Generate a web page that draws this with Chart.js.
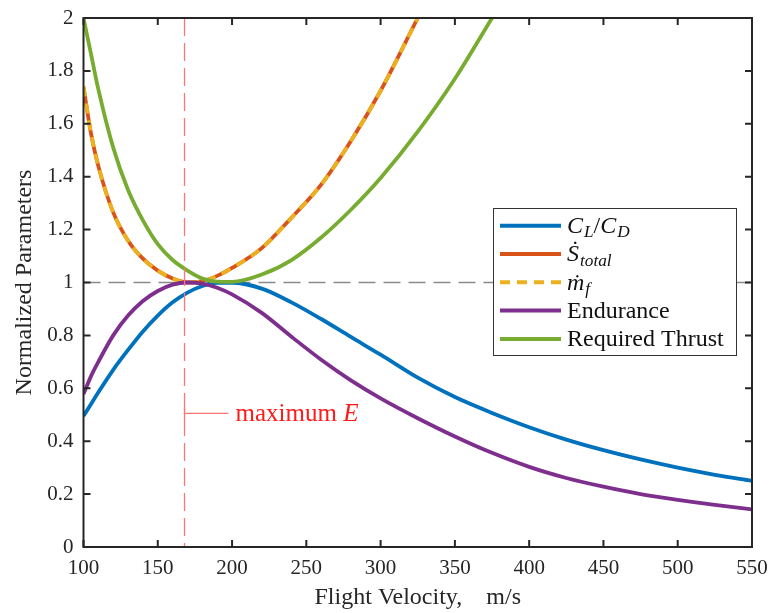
<!DOCTYPE html>
<html>
<head>
<meta charset="utf-8">
<script src="https://cdn.jsdelivr.net/npm/chart.js@4.4.1/dist/chart.umd.min.js"></script>
<style>
  html, body { margin: 0; padding: 0; background: #fff; }
  #wrap { position: relative; width: 771px; height: 613px; }
</style>
</head>
<body>
<div id="wrap"><canvas id="chart" width="771" height="613"></canvas></div>
<script>
// ─── Data ────────────────────────────────────────────────────────────────────
const velocity = [100, 105, 110, 120, 130, 140, 150, 160, 170, 180, 190, 200, 220, 240, 260, 280, 300, 325, 350, 375, 400, 425, 450, 475, 500, 525, 550];

const liftToDrag = [0.495, 0.54, 0.585, 0.67, 0.745, 0.815, 0.875, 0.925, 0.962, 0.987, 0.999, 0.999, 0.977, 0.925, 0.862, 0.794, 0.727, 0.64, 0.567, 0.507, 0.453, 0.406, 0.366, 0.331, 0.3, 0.273, 0.25];
const entropyRate = [1.74, 1.565, 1.44, 1.265, 1.158, 1.09, 1.045, 1.015, 1.0, 1.005, 1.025, 1.055, 1.13, 1.245, 1.37, 1.535, 1.725, 2.0, null, null, null, null, null, null, null, null, null];
const fuelFlow = [1.74, 1.565, 1.44, 1.265, 1.158, 1.09, 1.045, 1.015, 1.0, 1.005, 1.025, 1.055, 1.13, 1.245, 1.37, 1.535, 1.725, 2.0, null, null, null, null, null, null, null, null, null];
const endurance = [0.578, 0.645, 0.70, 0.80, 0.875, 0.93, 0.968, 0.992, 1.0, 0.996, 0.98, 0.955, 0.885, 0.795, 0.708, 0.63, 0.562, 0.487, 0.418, 0.356, 0.303, 0.261, 0.228, 0.2, 0.178, 0.159, 0.1425];
const requiredThrust = [2.0, 1.865, 1.73, 1.51, 1.35, 1.235, 1.145, 1.085, 1.045, 1.015, 1.003, 1.002, 1.03, 1.085, 1.17, 1.275, 1.395, 1.57, 1.77, 2.0, null, null, null, null, null, null, null];

const seriesNames = ['CL/CD', 'S_total', 'm_f', 'Endurance', 'Required Thrust'];
// legend text as rich pieces: [text, style]  ('' upright, 'i' italic, 'sub' italic subscript)
const legendLabels = [
  [['C', 'i'], ['L', 'sub'], ['/', ''], ['C', 'i'], ['D', 'sub']],
  [['Ṡ', 'i'], ['total', 'sub']],
  [['ṁ', 'i'], ['f', 'sub']],
  [['Endurance', '']],
  [['Required Thrust', '']],
];

const unityLevel = 1;        // grey dashed reference
const maxEVelocity = 168;    // red dashed line, maximum endurance
const annotationLevel = 0.505;
const annotationText = [['maximum ', ''], ['E', 'i']];

const xTicks = { min: 100, max: 550, step: 50 };
const yTicks = { min: 0, max: 2, step: 0.2 };

// ─── Styling ─────────────────────────────────────────────────────────────────
const SERIF = '"Liberation Serif", "Times New Roman", "DejaVu Serif", serif';
const AXIS = '#262626';
const COLORS = ['#0072BD', '#D95319', '#EDB120', '#7E2F8E', '#77AC30'];

const valuesBySeries = [liftToDrag, entropyRate, fuelFlow, endurance, requiredThrust];

function drawRich(ctx, pieces, x, y, size) {
  let cx = x;
  pieces.forEach(([txt, st]) => {
    const sub = st === 'sub';
    const fs = sub ? size * 0.72 : size;
    ctx.font = (st ? 'italic ' : '') + fs + 'px ' + SERIF;
    ctx.fillText(txt, cx, sub ? y + 6 : y);
    cx += ctx.measureText(txt).width + (st === 'i' ? 1 : 0);
  });
}

const framePlugin = {
  id: 'frame',
  beforeDatasetsDraw(chart) {
    const { ctx, chartArea: ca, scales: { y } } = chart;
    const yy = y.getPixelForValue(unityLevel);
    ctx.save();
    ctx.strokeStyle = '#8a8a8a';
    ctx.lineWidth = 1.3;
    ctx.setLineDash([17, 8]);
    ctx.beginPath();
    ctx.moveTo(ca.left, yy);
    ctx.lineTo(ca.right, yy);
    ctx.stroke();
    ctx.restore();
  },
  afterDatasetsDraw(chart) {
    const { ctx, chartArea: ca, scales: { x, y } } = chart;
    ctx.save();

    // red dashed line at maximum endurance
    const xe = x.getPixelForValue(maxEVelocity);
    ctx.strokeStyle = '#ff7474';
    ctx.lineWidth = 1.3;
    ctx.setLineDash([18, 7]);
    ctx.beginPath();
    ctx.moveTo(xe, ca.top);
    ctx.lineTo(xe, ca.bottom);
    ctx.stroke();
    ctx.setLineDash([]);

    // annotation "maximum E"
    const ya = y.getPixelForValue(annotationLevel);
    ctx.beginPath();
    ctx.moveTo(xe, ya - 5);
    ctx.lineTo(xe, ya + 5);
    ctx.moveTo(xe, ya);
    ctx.lineTo(xe + 44, ya);
    ctx.stroke();
    ctx.fillStyle = '#ff1a1a';
    ctx.textBaseline = 'middle';
    drawRich(ctx, annotationText, xe + 51, ya + 1, 25);

    // axes box + inward ticks
    ctx.strokeStyle = AXIS;
    ctx.lineWidth = 2;
    ctx.strokeRect(ca.left, ca.top, ca.right - ca.left, ca.bottom - ca.top);
    const tl = 7;
    ctx.beginPath();
    x.ticks.forEach(t => {
      const px = x.getPixelForValue(t.value);
      ctx.moveTo(px, ca.bottom); ctx.lineTo(px, ca.bottom - tl);
      ctx.moveTo(px, ca.top); ctx.lineTo(px, ca.top + tl);
    });
    y.ticks.forEach(t => {
      const py = y.getPixelForValue(t.value);
      ctx.moveTo(ca.left, py); ctx.lineTo(ca.left + tl, py);
      ctx.moveTo(ca.right, py); ctx.lineTo(ca.right - tl, py);
    });
    ctx.stroke();

    // legend box
    const lg = { w: 243, h: 147, right: 16, top: 190, first: 17.7, row: 28.3 };
    const bx = Math.round(ca.right - lg.right - lg.w), by = Math.round(ca.top + lg.top);
    ctx.fillStyle = '#fff';
    ctx.fillRect(bx, by, lg.w, lg.h);
    ctx.strokeStyle = '#333';
    ctx.lineWidth = 1;
    ctx.strokeRect(bx + 0.5, by + 0.5, lg.w, lg.h);
    chart.data.datasets.forEach((ds, i) => {
      const ry = by + lg.first + i * lg.row;
      ctx.strokeStyle = ds.borderColor;
      ctx.lineWidth = 4;
      ctx.setLineDash(ds.borderDash || []);
      ctx.beginPath();
      ctx.moveTo(bx + 7, ry);
      ctx.lineTo(bx + 68, ry);
      ctx.stroke();
      ctx.setLineDash([]);
      ctx.fillStyle = '#111';
      ctx.textBaseline = 'middle';
      drawRich(ctx, legendLabels[i], bx + 74, ry + 1, 24);
    });
    ctx.restore();
  },
};

const datasets = seriesNames.map((name, i) => ({
  label: name,
  data: velocity.map((v, k) => ({ x: v, y: valuesBySeries[i][k] })),
  borderColor: COLORS[i],
  borderDash: i === 2 ? [10, 7] : undefined,
  order: seriesNames.length - i,
}));

new Chart(document.getElementById('chart'), {
  type: 'line',
  data: { datasets },
  plugins: [framePlugin],
  options: {
    responsive: false,
    animation: false,
    layout: { padding: { top: 18, right: 19, left: 0, bottom: 0 } },
    plugins: { legend: { display: false }, tooltip: { enabled: false } },
    elements: {
      point: { radius: 0 },
      line: { borderWidth: 3.8, cubicInterpolationMode: 'monotone', fill: false },
    },
    scales: {
      x: {
        type: 'linear',
        min: xTicks.min, max: xTicks.max,
        grid: { display: false, drawTicks: false },
        border: { display: false },
        ticks: { stepSize: xTicks.step, padding: 9, color: AXIS, font: { family: SERIF, size: 21 } },
        title: { display: true, text: 'Flight Velocity,    m/s', color: AXIS, font: { family: SERIF, size: 24 }, padding: { top: 0, bottom: 1 } },
        afterFit: s => { s.height = 66; s.paddingLeft = 0; s.paddingRight = 0; },
      },
      y: {
        min: yTicks.min, max: yTicks.max,
        grid: { display: false, drawTicks: false },
        border: { display: false },
        ticks: { stepSize: yTicks.step, padding: 10, color: AXIS, font: { family: SERIF, size: 21 }, callback: v => +v.toFixed(1) },
        title: { display: true, text: 'Normalized Parameters', color: AXIS, font: { family: SERIF, size: 24 }, padding: { top: 10, bottom: 0 } },
        afterFit: s => { s.width = 83.5; s.paddingTop = 0; s.paddingBottom = 0; },
      },
    },
  },
});
</script>
</body>
</html>
